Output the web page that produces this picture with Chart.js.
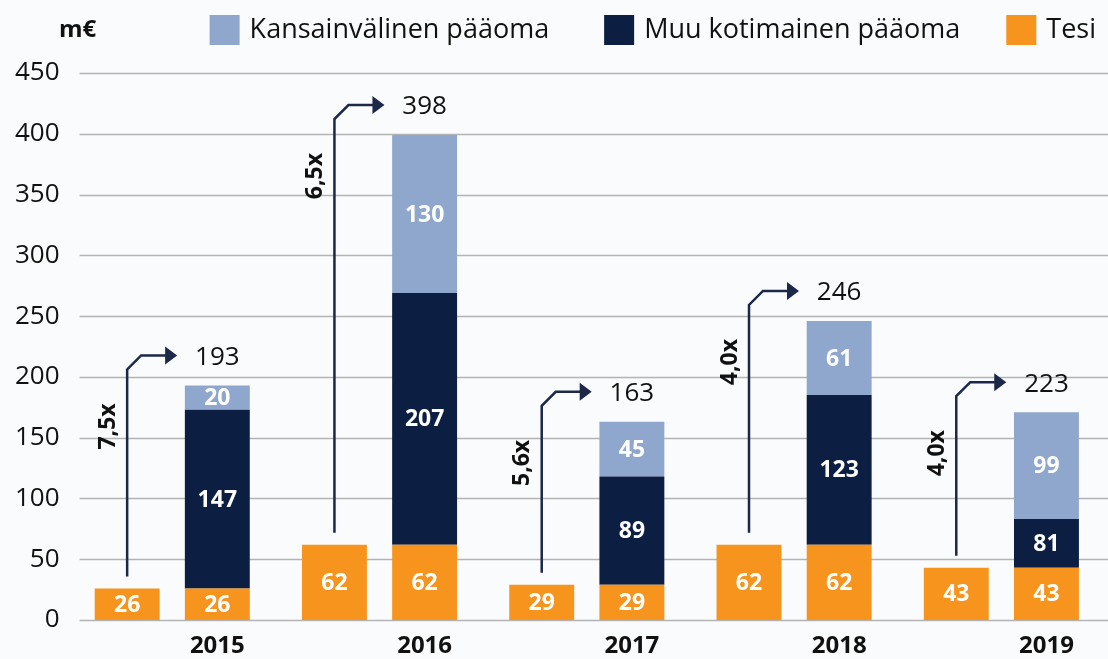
<!DOCTYPE html>
<html>
<head>
<meta charset="utf-8">
<script src="https://cdn.jsdelivr.net/npm/chart.js@4"></script>
<style>
    body { margin: 0; background: #fafbfc; }
    #wrap { width: 1108px; height: 659px; position: relative; }
</style>
</head>
<body>
<div id="wrap"><canvas id="fundChart"></canvas></div>
<script>
const years = ['2015', '2016', '2017', '2018', '2019'];
const tesi = [26, 62, 29, 62, 43];
const muu = [147, 207, 89, 123, 81];
const kans = [20, 130, 45, 61, 99];
const totals = [193, 398, 163, 246, 223];
const multipliers = ['7,5x', '6,5x', '5,6x', '4,0x', '4,0x'];
// in the source the 2019 stack is drawn shorter than its printed labels
const muuDrawn = [147, 207, 89, 123, 40];
const kansDrawn = [20, 130, 45, 61, 88];
const yTicks = [0, 50, 100, 150, 200, 250, 300, 350, 400, 450];

const ORANGE = '#f7941e';
const NAVY = '#0c1f42';
const LIGHT = '#8fa6cd';
const FONT = '"Open Sans", sans-serif';

// horizontal grid lines, starting a bit right of the plot's left edge
const gridLines = {
    id: 'gridLines',
    beforeDatasetsDraw(chart) {
        const ctx = chart.ctx;
        const y = chart.scales.y;
        ctx.save();
        ctx.strokeStyle = '#b3b3b3';
        ctx.lineWidth = 1.5;
        yTicks.forEach(v => {
            const py = Math.round(y.getPixelForValue(v)) + 0.5;
            ctx.beginPath();
            ctx.moveTo(chart.chartArea.left + 11, py);
            ctx.lineTo(chart.width, py);
            ctx.stroke();
        });
        ctx.restore();
    }
};

// white numbers inside each bar segment
const barLabels = {
    id: 'barLabels',
    afterDatasetsDraw(chart) {
        const ctx = chart.ctx;
        const texts = [tesi, tesi, muu, kans];
        ctx.save();
        ctx.font = 'bold 23px ' + FONT;
        ctx.fillStyle = '#ffffff';
        ctx.textAlign = 'center';
        ctx.textBaseline = 'middle';
        texts.forEach((arr, di) => {
            chart.getDatasetMeta(di).data.forEach((bar, i) => {
                ctx.fillText(arr[i], bar.x, (bar.y + bar.base) / 2 + 1);
            });
        });
        ctx.restore();
    }
};

// arrows from the Tesi bar to the total, multiplier, totals, years, unit, legend
const annotations = {
    id: 'annotations',
    afterDraw(chart) {
        const ctx = chart.ctx;
        const area = chart.chartArea;
        const alone = chart.getDatasetMeta(0).data;
        const tops = chart.getDatasetMeta(3).data;
        ctx.save();
        years.forEach((year, i) => {
            const x = alone[i].x;
            const top = tops[i].y;
            const labelY = top - 28;
            const lineY = labelY - 2;

            ctx.strokeStyle = '#1b2848';
            ctx.fillStyle = '#1b2848';
            ctx.lineWidth = 2.5;
            ctx.beginPath();
            ctx.moveTo(x, alone[i].y - 12);
            ctx.lineTo(x, lineY + 14);
            ctx.lineTo(x + 14, lineY);
            ctx.lineTo(x + 40, lineY);
            ctx.stroke();
            ctx.beginPath();
            ctx.moveTo(x + 38, lineY - 9);
            ctx.lineTo(x + 50, lineY);
            ctx.lineTo(x + 38, lineY + 9);
            ctx.closePath();
            ctx.fill();

            ctx.save();
            ctx.translate(x - 19, lineY + 48);
            ctx.rotate(-Math.PI / 2);
            ctx.font = 'bold 23px ' + FONT;
            ctx.fillStyle = '#111111';
            ctx.textAlign = 'right';
            ctx.textBaseline = 'middle';
            ctx.fillText(multipliers[i], 0, 0);
            ctx.restore();

            ctx.font = '26px ' + FONT;
            ctx.fillStyle = '#111111';
            ctx.textAlign = 'center';
            ctx.textBaseline = 'middle';
            ctx.fillText(totals[i], tops[i].x, labelY);

            ctx.font = 'bold 24px ' + FONT;
            ctx.fillText(year, tops[i].x, area.bottom + 26);
        });

        ctx.font = 'bold 24px ' + FONT;
        ctx.textAlign = 'left';
        ctx.fillStyle = '#111111';
        ctx.fillText('m€', 59, 30);

        // legend, right aligned
        const items = [3, 2, 1].map(di => chart.data.datasets[di]);
        const gaps = [55, 46];
        ctx.font = '27px ' + FONT;
        let right = 1096;
        for (let k = items.length - 1; k >= 0; k--) {
            const w = ctx.measureText(items[k].label).width;
            const textX = right - w;
            ctx.fillStyle = '#111111';
            ctx.fillText(items[k].label, textX, 30);
            ctx.fillStyle = items[k].backgroundColor;
            ctx.fillRect(textX - 40, 15, 30, 30);
            if (k > 0) right = textX - 40 - gaps[k - 1];
        }
        ctx.restore();
    }
};

new Chart(document.getElementById('fundChart'), {
    type: 'bar',
    data: {
        labels: years,
        datasets: [
            { label: 'Tesi', data: tesi, backgroundColor: ORANGE, stack: 'alone' },
            { label: 'Tesi', data: tesi, backgroundColor: ORANGE, stack: 'total' },
            { label: 'Muu kotimainen pääoma', data: muuDrawn, backgroundColor: NAVY, stack: 'total' },
            { label: 'Kansainvälinen pääoma', data: kansDrawn, backgroundColor: LIGHT, stack: 'total' }
        ]
    },
    options: {
        responsive: true,
        maintainAspectRatio: false,
        animation: false,
        categoryPercentage: 0.87,
        barPercentage: 0.72,
        layout: { padding: { top: 73, left: 6, right: 3, bottom: 39 } },
        plugins: {
            legend: { display: false },
            tooltip: { enabled: false }
        },
        scales: {
            x: {
                stacked: true,
                display: false
            },
            y: {
                stacked: true,
                min: 0,
                max: 450,
                afterBuildTicks: axis => { axis.ticks = yTicks.map(v => ({ value: v })); },
                border: { display: false },
                grid: { display: false, drawTicks: false },
                ticks: {
                    padding: 9,
                    color: '#111111',
                    font: { family: 'Open Sans', size: 26 }
                }
            }
        }
    },
    plugins: [gridLines, barLabels, annotations]
});
</script>
</body>
</html>
